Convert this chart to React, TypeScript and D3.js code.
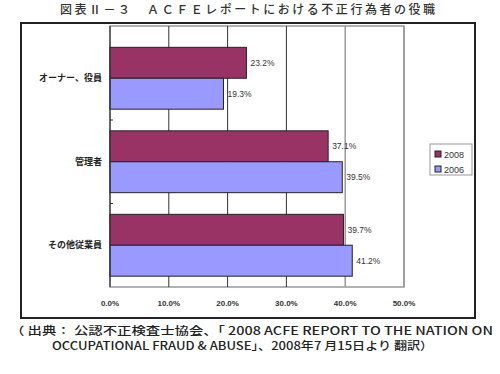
import React, { useEffect, useRef } from 'react';
import * as d3 from 'd3';

const categories = ['オーナー、役員', '管理者', 'その他従業員'];
const seriesNames = ['2008', '2006'];
const values2008 = [23.2, 37.1, 39.7];
const values2006 = [19.3, 39.5, 41.2];
const xTicks = [0, 10, 20, 30, 40, 50];

const title = '図表Ⅱ－３　ＡＣＦＥレポートにおける不正行為者の役職';
const source1 = '（ 出典： 公認不正検査士協会、「 2008 ACFE REPORT TO THE NATION ON';
const source2 = 'OCCUPATIONAL FRAUD & ABUSE」、2008年7 月15日より 翻訳）';

const colors = ['#993366', '#9999ff'];
const jp = '"Noto Sans CJK JP", sans-serif';
const lat = '"Liberation Sans", Arial, sans-serif';

const App: React.FC = () => {
    const svgRef = useRef<SVGSVGElement>(null);

    useEffect(() => {
        const svg = d3.select(svgRef.current);
        svg.selectAll('*').remove();

        const plot = { left: 110, right: 404, top: 26, bottom: 287 };

        // outer frame
        svg.append('rect')
            .attr('x', 21).attr('y', 23)
            .attr('width', 454).attr('height', 295)
            .attr('fill', 'white')
            .attr('stroke', '#222')
            .attr('stroke-width', 2);

        svg.append('text')
            .attr('x', 60).attr('y', 14)
            .attr('textLength', 375)
            .attr('lengthAdjust', 'spacing')
            .style('font-family', jp)
            .style('font-size', '12px')
            .style('font-weight', 500)
            .style('fill', '#333')
            .text(title);

        const x = d3.scaleLinear().domain([0, 50]).range([plot.left, plot.right]);
        const y = d3.scaleBand<string>()
            .domain(categories)
            .range([36.5, plot.bottom])
            .paddingInner(0);
        const inner = d3.scaleBand<string>()
            .domain(seriesNames)
            .range([0, y.bandwidth()])
            .paddingInner(0)
            .paddingOuter(0.35);

        // plot border
        svg.append('rect')
            .attr('x', plot.left).attr('y', plot.top)
            .attr('width', plot.right - plot.left)
            .attr('height', plot.bottom - plot.top)
            .attr('fill', 'white')
            .attr('stroke', '#999')
            .attr('stroke-width', 1.5);

        // gridlines
        svg.append('g')
            .selectAll('line')
            .data(xTicks.slice(1))
            .join('line')
            .attr('x1', d => x(d)).attr('x2', d => x(d))
            .attr('y1', plot.top).attr('y2', plot.bottom)
            .attr('stroke', d => (d >= 40 ? '#999' : '#333'))
            .attr('stroke-width', d => (d >= 40 ? 1.5 : 1));

        // bars
        const series = [values2008, values2006];
        series.forEach((vals, si) => {
            const g = svg.append('g');
            g.selectAll('rect')
                .data(vals)
                .join('rect')
                .attr('x', x(0))
                .attr('y', (d, i) => (y(categories[i]) as number) + (inner(seriesNames[si]) as number))
                .attr('width', d => x(d) - x(0))
                .attr('height', inner.bandwidth())
                .attr('fill', colors[si])
                .attr('stroke', '#222')
                .attr('stroke-width', 1);
            g.selectAll('text')
                .data(vals)
                .join('text')
                .attr('x', d => x(d) + 4)
                .attr('y', (d, i) => (y(categories[i]) as number) + (inner(seriesNames[si]) as number) + inner.bandwidth() / 2 + 3)
                .style('font-family', lat)
                .style('font-size', '8.5px')
                .style('fill', '#333')
                .text(d => d.toFixed(1) + '%');
        });

        // left axis
        svg.append('line')
            .attr('x1', plot.left).attr('x2', plot.left)
            .attr('y1', plot.top).attr('y2', plot.bottom)
            .attr('stroke', '#333').attr('stroke-width', 1.2);

        // category separators ticks
        svg.append('g')
            .selectAll('line')
            .data(categories.slice(1))
            .join('line')
            .attr('x1', plot.left).attr('x2', plot.left + 3)
            .attr('y1', d => y(d) as number).attr('y2', d => y(d) as number)
            .attr('stroke', '#333');

        // category labels
        svg.append('g')
            .selectAll('text')
            .data(categories)
            .join('text')
            .attr('x', 102)
            .attr('y', d => (y(d) as number) + y.bandwidth() / 2 + 3)
            .attr('text-anchor', 'end')
            .style('font-family', jp)
            .style('font-size', '9px')
            .style('font-weight', 600)
            .style('fill', '#222')
            .text(d => d);

        // x tick labels
        svg.append('g')
            .selectAll('text')
            .data(xTicks)
            .join('text')
            .attr('x', d => x(d))
            .attr('y', 306)
            .attr('text-anchor', 'middle')
            .style('font-family', lat)
            .style('font-size', '8px')
            .style('font-weight', 'bold')
            .style('fill', '#333')
            .text(d => d.toFixed(1) + '%');

        // legend
        const lg = svg.append('g').attr('transform', 'translate(430,144)');
        lg.append('rect')
            .attr('width', 42).attr('height', 31)
            .attr('fill', 'white')
            .attr('stroke', '#999');
        seriesNames.forEach((name, i) => {
            lg.append('rect')
                .attr('x', 5).attr('y', 7 + i * 15)
                .attr('width', 6).attr('height', 6)
                .attr('fill', colors[i])
                .attr('stroke', '#222');
            lg.append('text')
                .attr('x', 14).attr('y', 13.5 + i * 15)
                .style('font-family', lat)
                .style('font-size', '9px')
                .style('fill', '#333')
                .text(name);
        });

        // source
        svg.append('text')
            .attr('x', 10).attr('y', 335)
            .attr('textLength', 483)
            .attr('lengthAdjust', 'spacingAndGlyphs')
            .style('font-family', jp)
            .style('font-size', '11px')
            .style('font-weight', 500)
            .style('fill', '#222')
            .text(source1);
        svg.append('text')
            .attr('x', 52).attr('y', 350)
            .attr('textLength', 381)
            .attr('lengthAdjust', 'spacingAndGlyphs')
            .style('font-family', jp)
            .style('font-size', '11px')
            .style('font-weight', 500)
            .style('fill', '#222')
            .text(source2);
    }, []);

    return (
        <svg
            ref={svgRef}
            width={500}
            height={374}
            style={{ position: 'absolute', left: 0, top: 0, background: 'white' }}
        />
    );
};

export default App;
